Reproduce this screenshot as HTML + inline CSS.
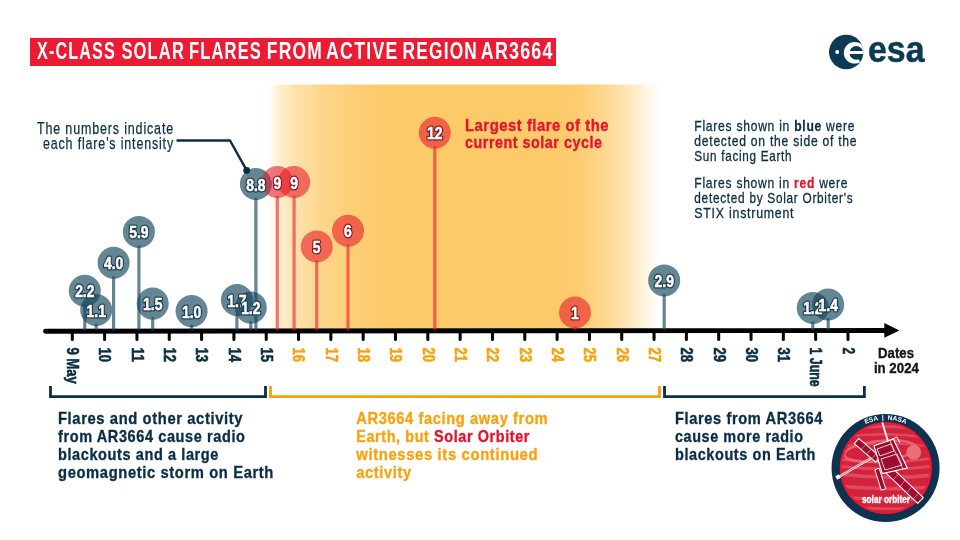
<!DOCTYPE html>
<html><head><meta charset="utf-8"><style>
html,body{margin:0;padding:0;background:#fff;}
body{width:960px;height:540px;overflow:hidden;font-family:"Liberation Sans",sans-serif;}
svg{display:block;will-change:transform;}
</style></head><body>
<svg width="960" height="540" viewBox="0 0 960 540" font-family="Liberation Sans, sans-serif"><defs>
<linearGradient id="og" x1="268" y1="0" x2="660" y2="0" gradientUnits="userSpaceOnUse"><stop offset="0" stop-color="#fdca69" stop-opacity="0"/><stop offset="0.03" stop-color="#fdca69" stop-opacity="0.32"/><stop offset="0.07" stop-color="#fdca69" stop-opacity="0.55"/><stop offset="0.14" stop-color="#fdca69" stop-opacity="0.78"/><stop offset="0.22" stop-color="#fdca69" stop-opacity="0.92"/><stop offset="0.30" stop-color="#fdca69" stop-opacity="1"/><stop offset="0.74" stop-color="#fdca69" stop-opacity="1"/><stop offset="0.80" stop-color="#fdca69" stop-opacity="0.93"/><stop offset="0.86" stop-color="#fdca69" stop-opacity="0.74"/><stop offset="0.92" stop-color="#fdca69" stop-opacity="0.46"/><stop offset="0.97" stop-color="#fdca69" stop-opacity="0.16"/><stop offset="1" stop-color="#fdca69" stop-opacity="0"/></linearGradient>
</defs>
<rect x="30" y="38" width="526" height="28" fill="#eb1b33"/>
<text x="37.10" y="59.2" font-size="23.1" font-weight="700" fill="#fff" letter-spacing="1.6" textLength="78.80" lengthAdjust="spacingAndGlyphs">X-CLASS</text>
<text x="121.40" y="59.2" font-size="23.1" font-weight="700" fill="#fff" letter-spacing="1.6" textLength="63.60" lengthAdjust="spacingAndGlyphs">SOLAR</text>
<text x="189.00" y="59.2" font-size="23.1" font-weight="700" fill="#fff" letter-spacing="1.6" textLength="73.00" lengthAdjust="spacingAndGlyphs">FLARES</text>
<text x="266.80" y="59.2" font-size="23.1" font-weight="700" fill="#fff" letter-spacing="1.6" textLength="56.20" lengthAdjust="spacingAndGlyphs">FROM</text>
<text x="326.00" y="59.2" font-size="23.1" font-weight="700" fill="#fff" letter-spacing="1.6" textLength="72.60" lengthAdjust="spacingAndGlyphs">ACTIVE</text>
<text x="402.60" y="59.2" font-size="23.1" font-weight="700" fill="#fff" letter-spacing="1.6" textLength="75.40" lengthAdjust="spacingAndGlyphs">REGION</text>
<text x="480.80" y="59.2" font-size="23.1" font-weight="700" fill="#fff" letter-spacing="1.6" textLength="72.80" lengthAdjust="spacingAndGlyphs">AR3664</text>
<rect x="268" y="84.5" width="392" height="246.5" fill="url(#og)"/>
<line x1="72.30" y1="331" x2="72.30" y2="339.5" stroke="#000" stroke-width="3" stroke-linecap="round"/>
<line x1="104.62" y1="331" x2="104.62" y2="339.5" stroke="#000" stroke-width="3" stroke-linecap="round"/>
<line x1="136.94" y1="331" x2="136.94" y2="339.5" stroke="#000" stroke-width="3" stroke-linecap="round"/>
<line x1="169.26" y1="331" x2="169.26" y2="339.5" stroke="#000" stroke-width="3" stroke-linecap="round"/>
<line x1="201.58" y1="331" x2="201.58" y2="339.5" stroke="#000" stroke-width="3" stroke-linecap="round"/>
<line x1="233.90" y1="331" x2="233.90" y2="339.5" stroke="#000" stroke-width="3" stroke-linecap="round"/>
<line x1="266.22" y1="331" x2="266.22" y2="339.5" stroke="#000" stroke-width="3" stroke-linecap="round"/>
<line x1="298.54" y1="331" x2="298.54" y2="339.5" stroke="#000" stroke-width="3" stroke-linecap="round"/>
<line x1="330.86" y1="331" x2="330.86" y2="339.5" stroke="#000" stroke-width="3" stroke-linecap="round"/>
<line x1="363.18" y1="331" x2="363.18" y2="339.5" stroke="#000" stroke-width="3" stroke-linecap="round"/>
<line x1="395.50" y1="331" x2="395.50" y2="339.5" stroke="#000" stroke-width="3" stroke-linecap="round"/>
<line x1="427.82" y1="331" x2="427.82" y2="339.5" stroke="#000" stroke-width="3" stroke-linecap="round"/>
<line x1="460.14" y1="331" x2="460.14" y2="339.5" stroke="#000" stroke-width="3" stroke-linecap="round"/>
<line x1="492.46" y1="331" x2="492.46" y2="339.5" stroke="#000" stroke-width="3" stroke-linecap="round"/>
<line x1="524.78" y1="331" x2="524.78" y2="339.5" stroke="#000" stroke-width="3" stroke-linecap="round"/>
<line x1="557.10" y1="331" x2="557.10" y2="339.5" stroke="#000" stroke-width="3" stroke-linecap="round"/>
<line x1="589.42" y1="331" x2="589.42" y2="339.5" stroke="#000" stroke-width="3" stroke-linecap="round"/>
<line x1="621.74" y1="331" x2="621.74" y2="339.5" stroke="#000" stroke-width="3" stroke-linecap="round"/>
<line x1="654.06" y1="331" x2="654.06" y2="339.5" stroke="#000" stroke-width="3" stroke-linecap="round"/>
<line x1="686.38" y1="331" x2="686.38" y2="339.5" stroke="#000" stroke-width="3" stroke-linecap="round"/>
<line x1="718.70" y1="331" x2="718.70" y2="339.5" stroke="#000" stroke-width="3" stroke-linecap="round"/>
<line x1="751.02" y1="331" x2="751.02" y2="339.5" stroke="#000" stroke-width="3" stroke-linecap="round"/>
<line x1="783.34" y1="331" x2="783.34" y2="339.5" stroke="#000" stroke-width="3" stroke-linecap="round"/>
<line x1="815.66" y1="331" x2="815.66" y2="339.5" stroke="#000" stroke-width="3" stroke-linecap="round"/>
<line x1="847.98" y1="331" x2="847.98" y2="339.5" stroke="#000" stroke-width="3" stroke-linecap="round"/>
<line x1="45.5" y1="331.2" x2="886" y2="330.5" stroke="#000" stroke-width="4.9" stroke-linecap="round"/>
<path d="M884.3 323 L899.4 330.4 L884.3 337.8 Z" fill="#000"/>
<text transform="translate(67.10,347.4) rotate(90)" font-size="15.8" font-weight="700" fill="#0a2e46" stroke="#0a2e46" stroke-width="0.6" textLength="36.5" lengthAdjust="spacingAndGlyphs">9 May</text>
<text transform="translate(99.42,347.4) rotate(90)" font-size="15.8" font-weight="700" fill="#0a2e46" stroke="#0a2e46" stroke-width="0.6" textLength="14.5" lengthAdjust="spacingAndGlyphs">10</text>
<text transform="translate(131.74,347.4) rotate(90)" font-size="15.8" font-weight="700" fill="#0a2e46" stroke="#0a2e46" stroke-width="0.6" textLength="14.5" lengthAdjust="spacingAndGlyphs">11</text>
<text transform="translate(164.06,347.4) rotate(90)" font-size="15.8" font-weight="700" fill="#0a2e46" stroke="#0a2e46" stroke-width="0.6" textLength="14.5" lengthAdjust="spacingAndGlyphs">12</text>
<text transform="translate(196.38,347.4) rotate(90)" font-size="15.8" font-weight="700" fill="#0a2e46" stroke="#0a2e46" stroke-width="0.6" textLength="14.5" lengthAdjust="spacingAndGlyphs">13</text>
<text transform="translate(228.70,347.4) rotate(90)" font-size="15.8" font-weight="700" fill="#0a2e46" stroke="#0a2e46" stroke-width="0.6" textLength="14.5" lengthAdjust="spacingAndGlyphs">14</text>
<text transform="translate(261.02,347.4) rotate(90)" font-size="15.8" font-weight="700" fill="#0a2e46" stroke="#0a2e46" stroke-width="0.6" textLength="14.5" lengthAdjust="spacingAndGlyphs">15</text>
<text transform="translate(293.34,347.4) rotate(90)" font-size="15.8" font-weight="700" fill="#f8a20f" stroke="#f8a20f" stroke-width="0.6" textLength="14.5" lengthAdjust="spacingAndGlyphs">16</text>
<text transform="translate(325.66,347.4) rotate(90)" font-size="15.8" font-weight="700" fill="#f8a20f" stroke="#f8a20f" stroke-width="0.6" textLength="14.5" lengthAdjust="spacingAndGlyphs">17</text>
<text transform="translate(357.98,347.4) rotate(90)" font-size="15.8" font-weight="700" fill="#f8a20f" stroke="#f8a20f" stroke-width="0.6" textLength="14.5" lengthAdjust="spacingAndGlyphs">18</text>
<text transform="translate(390.30,347.4) rotate(90)" font-size="15.8" font-weight="700" fill="#f8a20f" stroke="#f8a20f" stroke-width="0.6" textLength="14.5" lengthAdjust="spacingAndGlyphs">19</text>
<text transform="translate(422.62,347.4) rotate(90)" font-size="15.8" font-weight="700" fill="#f8a20f" stroke="#f8a20f" stroke-width="0.6" textLength="14.5" lengthAdjust="spacingAndGlyphs">20</text>
<text transform="translate(454.94,347.4) rotate(90)" font-size="15.8" font-weight="700" fill="#f8a20f" stroke="#f8a20f" stroke-width="0.6" textLength="14.5" lengthAdjust="spacingAndGlyphs">21</text>
<text transform="translate(487.26,347.4) rotate(90)" font-size="15.8" font-weight="700" fill="#f8a20f" stroke="#f8a20f" stroke-width="0.6" textLength="14.5" lengthAdjust="spacingAndGlyphs">22</text>
<text transform="translate(519.58,347.4) rotate(90)" font-size="15.8" font-weight="700" fill="#f8a20f" stroke="#f8a20f" stroke-width="0.6" textLength="14.5" lengthAdjust="spacingAndGlyphs">23</text>
<text transform="translate(551.90,347.4) rotate(90)" font-size="15.8" font-weight="700" fill="#f8a20f" stroke="#f8a20f" stroke-width="0.6" textLength="14.5" lengthAdjust="spacingAndGlyphs">24</text>
<text transform="translate(584.22,347.4) rotate(90)" font-size="15.8" font-weight="700" fill="#f8a20f" stroke="#f8a20f" stroke-width="0.6" textLength="14.5" lengthAdjust="spacingAndGlyphs">25</text>
<text transform="translate(616.54,347.4) rotate(90)" font-size="15.8" font-weight="700" fill="#f8a20f" stroke="#f8a20f" stroke-width="0.6" textLength="14.5" lengthAdjust="spacingAndGlyphs">26</text>
<text transform="translate(648.86,347.4) rotate(90)" font-size="15.8" font-weight="700" fill="#f8a20f" stroke="#f8a20f" stroke-width="0.6" textLength="14.5" lengthAdjust="spacingAndGlyphs">27</text>
<text transform="translate(681.18,347.4) rotate(90)" font-size="15.8" font-weight="700" fill="#0a2e46" stroke="#0a2e46" stroke-width="0.6" textLength="14.5" lengthAdjust="spacingAndGlyphs">28</text>
<text transform="translate(713.50,347.4) rotate(90)" font-size="15.8" font-weight="700" fill="#0a2e46" stroke="#0a2e46" stroke-width="0.6" textLength="14.5" lengthAdjust="spacingAndGlyphs">29</text>
<text transform="translate(745.82,347.4) rotate(90)" font-size="15.8" font-weight="700" fill="#0a2e46" stroke="#0a2e46" stroke-width="0.6" textLength="14.5" lengthAdjust="spacingAndGlyphs">30</text>
<text transform="translate(778.14,347.4) rotate(90)" font-size="15.8" font-weight="700" fill="#0a2e46" stroke="#0a2e46" stroke-width="0.6" textLength="14.5" lengthAdjust="spacingAndGlyphs">31</text>
<text transform="translate(810.46,347.4) rotate(90)" font-size="15.8" font-weight="700" fill="#0a2e46" stroke="#0a2e46" stroke-width="0.6" textLength="39.3" lengthAdjust="spacingAndGlyphs">1 June</text>
<text transform="translate(842.78,347.4) rotate(90)" font-size="15.8" font-weight="700" fill="#0a2e46" stroke="#0a2e46" stroke-width="0.6" textLength="6.7" lengthAdjust="spacingAndGlyphs">2</text>
<text x="896" y="358.4" text-anchor="middle" font-size="14.8" font-weight="700" fill="#151515" stroke="#151515" stroke-width="0.35" textLength="36" lengthAdjust="spacingAndGlyphs">Dates</text>
<text x="896.4" y="373.4" text-anchor="middle" font-size="14.8" font-weight="700" fill="#151515" stroke="#151515" stroke-width="0.35" textLength="45" lengthAdjust="spacingAndGlyphs">in 2024</text>
<line x1="84.8" y1="305.8" x2="84.8" y2="329" stroke="rgba(20,70,92,0.66)" stroke-width="3.2" stroke-linecap="round"/>
<circle cx="84.8" cy="290.8" r="16" fill="rgba(20,70,92,0.66)"/>
<line x1="96.2" y1="325.0" x2="96.2" y2="329" stroke="rgba(20,70,92,0.66)" stroke-width="3.2" stroke-linecap="round"/>
<circle cx="96.2" cy="310.0" r="16" fill="rgba(20,70,92,0.66)"/>
<line x1="113.6" y1="277.7" x2="113.6" y2="329" stroke="rgba(20,70,92,0.66)" stroke-width="3.2" stroke-linecap="round"/>
<circle cx="113.6" cy="262.7" r="16" fill="rgba(20,70,92,0.66)"/>
<line x1="138.9" y1="246.9" x2="138.9" y2="329" stroke="rgba(20,70,92,0.66)" stroke-width="3.2" stroke-linecap="round"/>
<circle cx="138.9" cy="231.9" r="16" fill="rgba(20,70,92,0.66)"/>
<line x1="152.7" y1="318.6" x2="152.7" y2="329" stroke="rgba(20,70,92,0.66)" stroke-width="3.2" stroke-linecap="round"/>
<circle cx="152.7" cy="303.6" r="16" fill="rgba(20,70,92,0.66)"/>
<line x1="191.6" y1="326.1" x2="191.6" y2="329" stroke="rgba(20,70,92,0.66)" stroke-width="3.2" stroke-linecap="round"/>
<circle cx="191.6" cy="311.1" r="16" fill="rgba(20,70,92,0.66)"/>
<line x1="236.9" y1="315.0" x2="236.9" y2="329" stroke="rgba(20,70,92,0.66)" stroke-width="3.2" stroke-linecap="round"/>
<circle cx="236.9" cy="300.0" r="16" fill="rgba(20,70,92,0.66)"/>
<line x1="250.8" y1="322.6" x2="250.8" y2="329" stroke="rgba(20,70,92,0.66)" stroke-width="3.2" stroke-linecap="round"/>
<circle cx="250.8" cy="307.6" r="16" fill="rgba(20,70,92,0.66)"/>
<line x1="255.9" y1="199.0" x2="255.9" y2="329" stroke="rgba(20,70,92,0.66)" stroke-width="3.2" stroke-linecap="round"/>
<circle cx="255.9" cy="184.0" r="16" fill="rgba(20,70,92,0.66)"/>
<line x1="277.3" y1="197.0" x2="277.3" y2="329" stroke="rgba(232,28,42,0.6)" stroke-width="3.2" stroke-linecap="round"/>
<circle cx="277.3" cy="182.0" r="16" fill="rgba(232,28,42,0.6)"/>
<line x1="294.1" y1="197.0" x2="294.1" y2="329" stroke="rgba(232,28,42,0.6)" stroke-width="3.2" stroke-linecap="round"/>
<circle cx="294.1" cy="182.0" r="16" fill="rgba(232,28,42,0.6)"/>
<line x1="316.7" y1="261.5" x2="316.7" y2="329" stroke="rgba(232,28,42,0.6)" stroke-width="3.2" stroke-linecap="round"/>
<circle cx="316.7" cy="246.5" r="16" fill="rgba(232,28,42,0.6)"/>
<line x1="348.0" y1="245.8" x2="348.0" y2="329" stroke="rgba(232,28,42,0.6)" stroke-width="3.2" stroke-linecap="round"/>
<circle cx="348.0" cy="230.8" r="16" fill="rgba(232,28,42,0.6)"/>
<line x1="434.8" y1="147.7" x2="434.8" y2="329" stroke="rgba(232,28,42,0.6)" stroke-width="3.2" stroke-linecap="round"/>
<circle cx="434.8" cy="132.7" r="16" fill="rgba(232,28,42,0.6)"/>
<line x1="575.0" y1="327.5" x2="575.0" y2="329" stroke="rgba(232,28,42,0.6)" stroke-width="3.2" stroke-linecap="round"/>
<circle cx="575.0" cy="312.5" r="16" fill="rgba(232,28,42,0.6)"/>
<line x1="664.2" y1="295.4" x2="664.2" y2="329" stroke="rgba(20,70,92,0.66)" stroke-width="3.2" stroke-linecap="round"/>
<circle cx="664.2" cy="280.4" r="16" fill="rgba(20,70,92,0.66)"/>
<line x1="812.8" y1="322.9" x2="812.8" y2="329" stroke="rgba(20,70,92,0.66)" stroke-width="3.2" stroke-linecap="round"/>
<circle cx="812.8" cy="307.9" r="16" fill="rgba(20,70,92,0.66)"/>
<line x1="828.2" y1="319.5" x2="828.2" y2="329" stroke="rgba(20,70,92,0.66)" stroke-width="3.2" stroke-linecap="round"/>
<circle cx="828.2" cy="304.5" r="16" fill="rgba(20,70,92,0.66)"/>
<text transform="translate(84.8,297.3) scale(0.86,1)" text-anchor="middle" font-size="16.2" font-weight="700" fill="#fff" stroke="#1d3c4c" stroke-width="3.2" stroke-linejoin="round">2.2</text>
<text transform="translate(84.8,297.3) scale(0.86,1)" text-anchor="middle" font-size="16.2" font-weight="700" fill="#fff" stroke="#fff" stroke-width="0.5" stroke-linejoin="round">2.2</text>
<text transform="translate(96.2,316.5) scale(0.86,1)" text-anchor="middle" font-size="16.2" font-weight="700" fill="#fff" stroke="#1d3c4c" stroke-width="3.2" stroke-linejoin="round">1.1</text>
<text transform="translate(96.2,316.5) scale(0.86,1)" text-anchor="middle" font-size="16.2" font-weight="700" fill="#fff" stroke="#fff" stroke-width="0.5" stroke-linejoin="round">1.1</text>
<text transform="translate(113.6,269.2) scale(0.86,1)" text-anchor="middle" font-size="16.2" font-weight="700" fill="#fff" stroke="#1d3c4c" stroke-width="3.2" stroke-linejoin="round">4.0</text>
<text transform="translate(113.6,269.2) scale(0.86,1)" text-anchor="middle" font-size="16.2" font-weight="700" fill="#fff" stroke="#fff" stroke-width="0.5" stroke-linejoin="round">4.0</text>
<text transform="translate(138.9,238.4) scale(0.86,1)" text-anchor="middle" font-size="16.2" font-weight="700" fill="#fff" stroke="#1d3c4c" stroke-width="3.2" stroke-linejoin="round">5.9</text>
<text transform="translate(138.9,238.4) scale(0.86,1)" text-anchor="middle" font-size="16.2" font-weight="700" fill="#fff" stroke="#fff" stroke-width="0.5" stroke-linejoin="round">5.9</text>
<text transform="translate(152.7,310.1) scale(0.86,1)" text-anchor="middle" font-size="16.2" font-weight="700" fill="#fff" stroke="#1d3c4c" stroke-width="3.2" stroke-linejoin="round">1.5</text>
<text transform="translate(152.7,310.1) scale(0.86,1)" text-anchor="middle" font-size="16.2" font-weight="700" fill="#fff" stroke="#fff" stroke-width="0.5" stroke-linejoin="round">1.5</text>
<text transform="translate(191.6,317.6) scale(0.86,1)" text-anchor="middle" font-size="16.2" font-weight="700" fill="#fff" stroke="#1d3c4c" stroke-width="3.2" stroke-linejoin="round">1.0</text>
<text transform="translate(191.6,317.6) scale(0.86,1)" text-anchor="middle" font-size="16.2" font-weight="700" fill="#fff" stroke="#fff" stroke-width="0.5" stroke-linejoin="round">1.0</text>
<text transform="translate(236.9,306.5) scale(0.86,1)" text-anchor="middle" font-size="16.2" font-weight="700" fill="#fff" stroke="#1d3c4c" stroke-width="3.2" stroke-linejoin="round">1.7</text>
<text transform="translate(236.9,306.5) scale(0.86,1)" text-anchor="middle" font-size="16.2" font-weight="700" fill="#fff" stroke="#fff" stroke-width="0.5" stroke-linejoin="round">1.7</text>
<text transform="translate(250.8,314.1) scale(0.86,1)" text-anchor="middle" font-size="16.2" font-weight="700" fill="#fff" stroke="#1d3c4c" stroke-width="3.2" stroke-linejoin="round">1.2</text>
<text transform="translate(250.8,314.1) scale(0.86,1)" text-anchor="middle" font-size="16.2" font-weight="700" fill="#fff" stroke="#fff" stroke-width="0.5" stroke-linejoin="round">1.2</text>
<text transform="translate(255.9,190.5) scale(0.86,1)" text-anchor="middle" font-size="16.2" font-weight="700" fill="#fff" stroke="#1d3c4c" stroke-width="3.2" stroke-linejoin="round">8.8</text>
<text transform="translate(255.9,190.5) scale(0.86,1)" text-anchor="middle" font-size="16.2" font-weight="700" fill="#fff" stroke="#fff" stroke-width="0.5" stroke-linejoin="round">8.8</text>
<text transform="translate(277.3,188.5) scale(0.86,1)" text-anchor="middle" font-size="16.2" font-weight="700" fill="#fff" stroke="#7d1b28" stroke-width="3.2" stroke-linejoin="round">9</text>
<text transform="translate(277.3,188.5) scale(0.86,1)" text-anchor="middle" font-size="16.2" font-weight="700" fill="#fff" stroke="#fff" stroke-width="0.5" stroke-linejoin="round">9</text>
<text transform="translate(294.1,188.5) scale(0.86,1)" text-anchor="middle" font-size="16.2" font-weight="700" fill="#fff" stroke="#7d1b28" stroke-width="3.2" stroke-linejoin="round">9</text>
<text transform="translate(294.1,188.5) scale(0.86,1)" text-anchor="middle" font-size="16.2" font-weight="700" fill="#fff" stroke="#fff" stroke-width="0.5" stroke-linejoin="round">9</text>
<text transform="translate(316.7,253.0) scale(0.86,1)" text-anchor="middle" font-size="16.2" font-weight="700" fill="#fff" stroke="#7d1b28" stroke-width="3.2" stroke-linejoin="round">5</text>
<text transform="translate(316.7,253.0) scale(0.86,1)" text-anchor="middle" font-size="16.2" font-weight="700" fill="#fff" stroke="#fff" stroke-width="0.5" stroke-linejoin="round">5</text>
<text transform="translate(348.0,237.3) scale(0.86,1)" text-anchor="middle" font-size="16.2" font-weight="700" fill="#fff" stroke="#7d1b28" stroke-width="3.2" stroke-linejoin="round">6</text>
<text transform="translate(348.0,237.3) scale(0.86,1)" text-anchor="middle" font-size="16.2" font-weight="700" fill="#fff" stroke="#fff" stroke-width="0.5" stroke-linejoin="round">6</text>
<text transform="translate(434.8,139.2) scale(0.86,1)" text-anchor="middle" font-size="16.2" font-weight="700" fill="#fff" stroke="#7d1b28" stroke-width="3.2" stroke-linejoin="round">12</text>
<text transform="translate(434.8,139.2) scale(0.86,1)" text-anchor="middle" font-size="16.2" font-weight="700" fill="#fff" stroke="#fff" stroke-width="0.5" stroke-linejoin="round">12</text>
<text transform="translate(575.0,319.0) scale(0.86,1)" text-anchor="middle" font-size="16.2" font-weight="700" fill="#fff" stroke="#7d1b28" stroke-width="3.2" stroke-linejoin="round">1</text>
<text transform="translate(575.0,319.0) scale(0.86,1)" text-anchor="middle" font-size="16.2" font-weight="700" fill="#fff" stroke="#fff" stroke-width="0.5" stroke-linejoin="round">1</text>
<text transform="translate(664.2,286.9) scale(0.86,1)" text-anchor="middle" font-size="16.2" font-weight="700" fill="#fff" stroke="#1d3c4c" stroke-width="3.2" stroke-linejoin="round">2.9</text>
<text transform="translate(664.2,286.9) scale(0.86,1)" text-anchor="middle" font-size="16.2" font-weight="700" fill="#fff" stroke="#fff" stroke-width="0.5" stroke-linejoin="round">2.9</text>
<text transform="translate(812.8,314.4) scale(0.86,1)" text-anchor="middle" font-size="16.2" font-weight="700" fill="#fff" stroke="#1d3c4c" stroke-width="3.2" stroke-linejoin="round">1.2</text>
<text transform="translate(812.8,314.4) scale(0.86,1)" text-anchor="middle" font-size="16.2" font-weight="700" fill="#fff" stroke="#fff" stroke-width="0.5" stroke-linejoin="round">1.2</text>
<text transform="translate(828.2,311.0) scale(0.86,1)" text-anchor="middle" font-size="16.2" font-weight="700" fill="#fff" stroke="#1d3c4c" stroke-width="3.2" stroke-linejoin="round">1.4</text>
<text transform="translate(828.2,311.0) scale(0.86,1)" text-anchor="middle" font-size="16.2" font-weight="700" fill="#fff" stroke="#fff" stroke-width="0.5" stroke-linejoin="round">1.4</text>
<polyline points="177.5,140.5 230,140.5 246.7,170.4" fill="none" stroke="#0a2e46" stroke-width="2.4" stroke-linecap="round" stroke-linejoin="round"/>
<circle cx="246.7" cy="170.4" r="3.4" fill="#0a2e46"/>
<text x="174" y="133.9" text-anchor="end" font-size="16.3" letter-spacing="1.1" fill="#0a2e46" stroke="#0a2e46" stroke-width="0.25" textLength="137" lengthAdjust="spacingAndGlyphs">The numbers indicate</text>
<text x="174" y="149.4" text-anchor="end" font-size="16.3" letter-spacing="1.1" fill="#0a2e46" stroke="#0a2e46" stroke-width="0.25" textLength="131" lengthAdjust="spacingAndGlyphs">each flare's intensity</text>
<text x="465" y="130.5" font-size="16.8" font-weight="700" letter-spacing="0.6" fill="#e4132e" stroke="#e4132e" stroke-width="0.35" textLength="144" lengthAdjust="spacingAndGlyphs">Largest flare of the</text>
<text x="465" y="148" font-size="16.8" font-weight="700" letter-spacing="0.6" fill="#e4132e" stroke="#e4132e" stroke-width="0.35" textLength="137.5" lengthAdjust="spacingAndGlyphs">current solar cycle</text>
<text x="694.3" y="130.7" font-size="14.5" letter-spacing="0.9" fill="#0a2e46" stroke="#0a2e46" stroke-width="0.3" textLength="161" lengthAdjust="spacingAndGlyphs">Flares shown in <tspan font-weight="700">blue</tspan> were</text>
<text x="694.3" y="146" font-size="14.5" letter-spacing="0.9" fill="#0a2e46" stroke="#0a2e46" stroke-width="0.3" textLength="163" lengthAdjust="spacingAndGlyphs">detected on the side of the</text>
<text x="694.3" y="160.7" font-size="14.5" letter-spacing="0.9" fill="#0a2e46" stroke="#0a2e46" stroke-width="0.3" textLength="98" lengthAdjust="spacingAndGlyphs">Sun facing Earth</text>
<text x="694.3" y="187.8" font-size="14.5" letter-spacing="0.9" fill="#0a2e46" stroke="#0a2e46" stroke-width="0.3" textLength="154" lengthAdjust="spacingAndGlyphs">Flares shown in <tspan font-weight="700" fill="#e4132e" stroke="#e4132e">red</tspan> were</text>
<text x="694.3" y="202.9" font-size="14.5" letter-spacing="0.9" fill="#0a2e46" stroke="#0a2e46" stroke-width="0.3" textLength="159" lengthAdjust="spacingAndGlyphs">detected by Solar Orbiter's</text>
<text x="694.3" y="217.8" font-size="14.5" letter-spacing="0.9" fill="#0a2e46" stroke="#0a2e46" stroke-width="0.3" textLength="100" lengthAdjust="spacingAndGlyphs">STIX instrument</text>
<polyline points="50.5,386 50.5,396.6 265.5,396.6 265.5,386" fill="none" stroke="#0a2e46" stroke-width="2.8"/>
<polyline points="270.5,386 270.5,396.6 659.5,396.6 659.5,386" fill="none" stroke="#f8a20f" stroke-width="2.8"/>
<polyline points="664.5,386 664.5,396.6 864.4,396.6 864.4,386" fill="none" stroke="#0a2e46" stroke-width="2.8"/>
<text x="58" y="423.75" font-size="17" font-weight="700" letter-spacing="0.7" fill="#0a2e46" stroke="#0a2e46" stroke-width="0.35" textLength="185" lengthAdjust="spacingAndGlyphs">Flares and other activity</text>
<text x="58" y="441.85" font-size="17" font-weight="700" letter-spacing="0.7" fill="#0a2e46" stroke="#0a2e46" stroke-width="0.35" textLength="187.5" lengthAdjust="spacingAndGlyphs">from AR3664 cause radio</text>
<text x="58" y="459.95" font-size="17" font-weight="700" letter-spacing="0.7" fill="#0a2e46" stroke="#0a2e46" stroke-width="0.35" textLength="161" lengthAdjust="spacingAndGlyphs">blackouts and a large</text>
<text x="58" y="478.05" font-size="17" font-weight="700" letter-spacing="0.7" fill="#0a2e46" stroke="#0a2e46" stroke-width="0.35" textLength="216" lengthAdjust="spacingAndGlyphs">geomagnetic storm on Earth</text>
<text x="356.2" y="423.75" font-size="17" font-weight="700" letter-spacing="0.7" fill="#f8a20f" stroke="#f8a20f" stroke-width="0.35" textLength="192" lengthAdjust="spacingAndGlyphs">AR3664 facing away from</text>
<text x="356.2" y="441.85" font-size="17" font-weight="700" letter-spacing="0.7" fill="#f8a20f" stroke="#f8a20f" stroke-width="0.35" textLength="173.8" lengthAdjust="spacingAndGlyphs">Earth, but <tspan fill="#e4132e" stroke="#e4132e">Solar Orbiter</tspan></text>
<text x="356.2" y="459.95" font-size="17" font-weight="700" letter-spacing="0.7" fill="#f8a20f" stroke="#f8a20f" stroke-width="0.35" textLength="182" lengthAdjust="spacingAndGlyphs">witnesses its continued</text>
<text x="356.2" y="478.05" font-size="17" font-weight="700" letter-spacing="0.7" fill="#f8a20f" stroke="#f8a20f" stroke-width="0.35" textLength="55.5" lengthAdjust="spacingAndGlyphs">activity</text>
<text x="675" y="423.75" font-size="17" font-weight="700" letter-spacing="0.7" fill="#0a2e46" stroke="#0a2e46" stroke-width="0.35" textLength="148" lengthAdjust="spacingAndGlyphs">Flares from AR3664</text>
<text x="675" y="441.85" font-size="17" font-weight="700" letter-spacing="0.7" fill="#0a2e46" stroke="#0a2e46" stroke-width="0.35" textLength="128.5" lengthAdjust="spacingAndGlyphs">cause more radio</text>
<text x="675" y="459.95" font-size="17" font-weight="700" letter-spacing="0.7" fill="#0a2e46" stroke="#0a2e46" stroke-width="0.35" textLength="141" lengthAdjust="spacingAndGlyphs">blackouts on Earth</text>
<clipPath id="lc"><circle cx="846.2" cy="52" r="17.2"/></clipPath>
<g clip-path="url(#lc)"><rect x="828" y="34" width="36" height="36" fill="#0b3a52"/><circle cx="854.6" cy="52.8" r="10.8" fill="#fff"/><circle cx="856.3" cy="52.9" r="6.8" fill="#0b3a52"/><rect x="848" y="51" width="18" height="3" fill="#fff"/><path d="M856 54 L868 54 L868 62 L860 62 Z" fill="#0b3a52"/></g>
<circle cx="837.2" cy="52" r="2" fill="#fff"/>
<text x="868" y="62.2" font-size="36.5" font-weight="700" fill="#0b3a52" stroke="#0b3a52" stroke-width="0.5" textLength="56.5" lengthAdjust="spacingAndGlyphs">esa</text>
<clipPath id="pc"><circle cx="885.85" cy="468" r="44.0"/></clipPath>
<circle cx="885.55" cy="468" r="54" fill="#0e3350"/>
<circle cx="885.85" cy="468" r="46.1" fill="#f2152d"/>
<circle cx="885.85" cy="468" r="44.0" fill="#d3223d"/>
<g clip-path="url(#pc)" fill="none" stroke="#e15866" stroke-linecap="round"><path d="M838 431 Q886 422 934 431" stroke-width="3.2" opacity="0.75"/><path d="M838 438 Q886 430 934 439" stroke-width="2.6" opacity="0.75"/><path d="M838 447 Q886 440 934 447" stroke-width="2.2" opacity="0.75"/><path d="M838 459 Q886 466 934 458" stroke-width="2.6" opacity="0.75"/><path d="M838 466 Q886 472 934 466" stroke-width="2.8" opacity="0.75"/><path d="M838 474 Q886 480 934 475" stroke-width="3.6" opacity="0.75"/><path d="M838 486 Q886 491 934 487" stroke-width="3.6" opacity="0.75"/><path d="M838 497 Q886 501 934 498" stroke-width="3.2" opacity="0.75"/><path d="M838 507 Q886 510 934 508" stroke-width="2.8" opacity="0.75"/><ellipse cx="880" cy="451" rx="36" ry="10" transform="rotate(-6 880 451)" stroke="#e66d78" stroke-width="2.6" opacity="0.85"/></g>
<circle cx="913.8" cy="452.3" r="7.4" fill="#ea6f78"/>
<path id="arc" d="M 843.72 443.85 A 48.3 48.3 0 0 1 927.38 443.85" fill="none"/>
<text font-size="6.6" font-weight="700" fill="#fff"><textPath href="#arc" startOffset="50%" text-anchor="middle">ESA&#160;&#160;|&#160;&#160;NASA</textPath></text>
<line x1="882.3" y1="422.5" x2="888.8" y2="444" stroke="#fff" stroke-width="1.8"/>
<line x1="838.5" y1="477" x2="874" y2="456.5" stroke="#fff" stroke-width="2.2"/>
<line x1="839.5" y1="476.4" x2="873" y2="457" stroke="#9e0c30" stroke-width="0.6"/>
<rect x="836" y="475" width="4" height="4" transform="rotate(-30 838 477)" fill="#fff"/>
<path d="M854.28 443.58 L875.78 462.08 L880.22 456.92 L858.72 438.42 Z" fill="#9e0c30" stroke="#fff" stroke-width="1.1" stroke-linejoin="round"/>
<path d="M884.17 471.46 L917.67 503.46 L923.33 497.54 L889.83 465.54 Z" fill="#9e0c30" stroke="#fff" stroke-width="1.1" stroke-linejoin="round"/>
<line x1="861.5" y1="449.2" x2="865.5" y2="444.6" stroke="#f29aa6" stroke-width="0.7"/>
<line x1="866.8" y1="453.8" x2="870.8" y2="449.2" stroke="#f29aa6" stroke-width="0.7"/>
<line x1="872.2" y1="458.4" x2="876.2" y2="453.8" stroke="#f29aa6" stroke-width="0.7"/>
<line x1="893.4" y1="479.9" x2="898.4" y2="473.9" stroke="#f29aa6" stroke-width="0.7"/>
<line x1="900.1" y1="486.3" x2="905.1" y2="480.3" stroke="#f29aa6" stroke-width="0.7"/>
<line x1="906.8" y1="492.7" x2="911.8" y2="486.7" stroke="#f29aa6" stroke-width="0.7"/>
<line x1="913.5" y1="499.1" x2="918.5" y2="493.1" stroke="#f29aa6" stroke-width="0.7"/>
<path d="M874.81 469.70 L881.31 490.20 L885.69 488.80 L879.19 468.30 Z" fill="#9e0c30" stroke="#fff" stroke-width="1"/>
<path d="M874 445.8 L893.4 439.3 L907.3 468 L882.3 473.6 Z" fill="#9e0c30" stroke="#fff" stroke-width="1.2" stroke-linejoin="round"/>
<path d="M877 449 L891 444 L894 451 L880 456 Z" fill="none" stroke="#fff" stroke-width="0.8"/>
<path d="M881 459 L897 454 L902 465 L885 470 Z" fill="none" stroke="#fff" stroke-width="0.8"/>
<line x1="890" y1="441" x2="903" y2="469" stroke="#fff" stroke-width="0.7"/>
<path d="M889 440.5 L897 437 L900 443" fill="none" stroke="#fff" stroke-width="1"/>
<text x="862" y="502.9" font-size="10" font-weight="700" fill="#fff" stroke="#fff" stroke-width="0.3" textLength="48" lengthAdjust="spacingAndGlyphs">solar orbiter</text></svg>
</body></html>
